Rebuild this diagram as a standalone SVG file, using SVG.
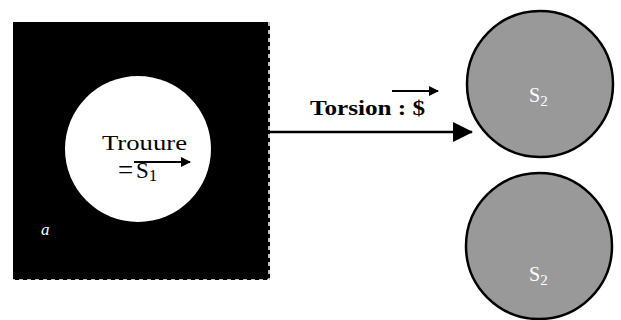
<svg xmlns="http://www.w3.org/2000/svg" width="621" height="320" viewBox="0 0 621 320">
  <style>
    .serif { font-family: "Liberation Serif", "Times New Roman", serif; }
    .disc { fill: #999999; stroke: #000000; stroke-width: 2.5; }
    .lbl2 { font-size: 20px; fill: #ffffff; }
    .vec { stroke: #000000; stroke-width: 2; fill: none; }
  </style>
  <defs>
    <marker id="head" markerWidth="10" markerHeight="10" refX="9" refY="5" orient="auto" markerUnits="userSpaceOnUse">
      <path d="M0,0 L10,5 L0,10 Z" fill="#000000"/>
    </marker>
    <marker id="bighead" markerWidth="20" markerHeight="20" refX="19" refY="10" orient="auto" markerUnits="userSpaceOnUse">
      <path d="M0,0 L20,10 L0,20 Z" fill="#000000"/>
    </marker>
  </defs>

  <rect width="621" height="320" fill="#ffffff"/>

  <!-- plate with a hole -->
  <g id="plate">
    <rect x="13" y="22" width="257" height="258" fill="#000000"/>
    <path d="M269,22 V280 H13" fill="none" stroke="#ffffff" stroke-width="1.5" stroke-dasharray="4,4"/>
    <circle cx="138" cy="149" r="73" fill="#ffffff"/>
    <text class="serif" x="102" y="150" font-size="22" textLength="85" lengthAdjust="spacingAndGlyphs">Trouure</text>
    <text class="serif" x="118" y="179" font-size="27">=</text>
    <text class="serif" x="136" y="178" font-size="23">S<tspan font-size="17" dy="3">1</tspan></text>
    <line class="vec" x1="134" y1="162" x2="190" y2="162" marker-end="url(#head)"/>
    <text class="serif" x="41" y="235" font-size="17" font-style="italic" fill="#ffffff">a</text>
  </g>

  <!-- upper disc -->
  <g id="s2-top">
    <circle class="disc" cx="540" cy="84" r="73"/>
    <text class="serif lbl2" x="529" y="102">S<tspan font-size="15" dy="4">2</tspan></text>
  </g>

  <!-- lower disc -->
  <g id="s2-bottom">
    <circle class="disc" cx="539" cy="246" r="73"/>
    <text class="serif lbl2" x="529" y="281">S<tspan font-size="15" dy="4">2</tspan></text>
  </g>

  <!-- connector -->
  <g id="connectors">
    <line x1="270" y1="132" x2="472" y2="132" stroke="#000000" stroke-width="2.5" marker-end="url(#bighead)"/>
    <text class="serif" x="310" y="115" font-size="22" font-weight="bold" textLength="115" lengthAdjust="spacingAndGlyphs">Torsion : $</text>
    <line class="vec" x1="392" y1="91" x2="438" y2="91" marker-end="url(#head)"/>
  </g>
</svg>
